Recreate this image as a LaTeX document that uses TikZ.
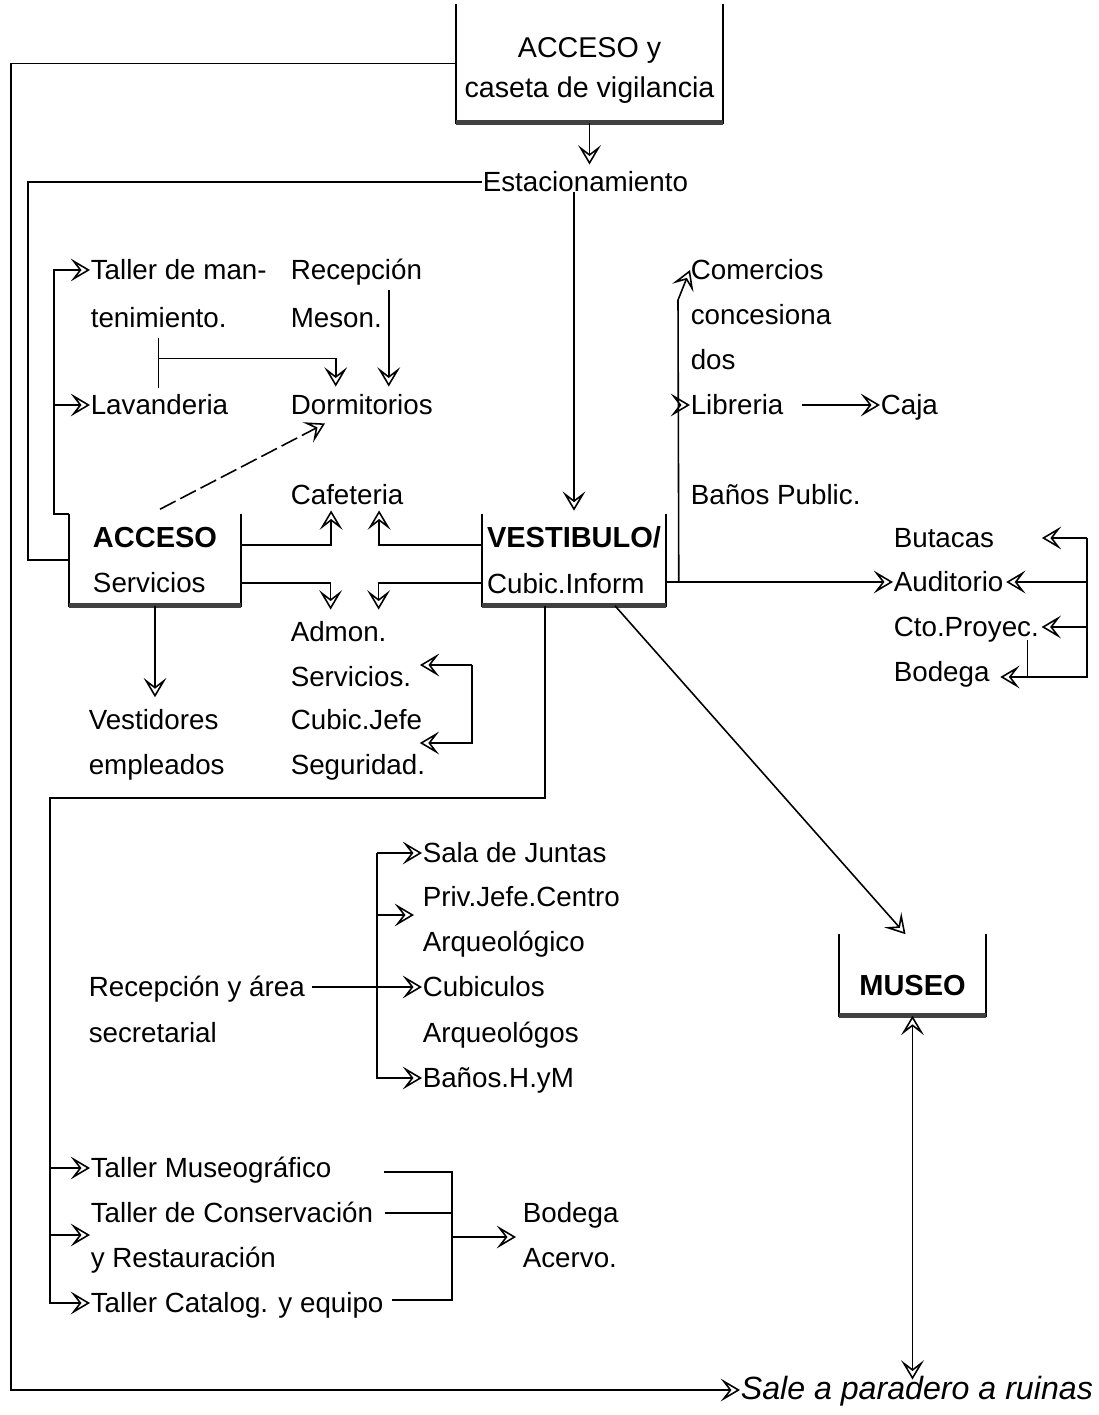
\documentclass[tikz,border=0pt]{standalone}
\usepackage{fontspec}
\setmainfont{Liberation Sans}
\usetikzlibrary{arrows.meta,calc}
\begin{document}
\begin{tikzpicture}[x=0.02cm,y=-0.02cm,line width=0.9pt,
  font=\fontsize{15.8}{19}\selectfont,
  txt/.style={anchor=west,inner sep=0pt,text height=11pt,text depth=0pt},
  recinto/.style={inner sep=0pt,align=left,font=\fontsize{15.8}{26}\selectfont},
  flecha/.style={-{Stealth[open,length=11pt,width=13pt,inset=5pt]}},
  dobleflecha/.style={{Stealth[open,length=11pt,width=13pt,inset=5pt]}-{Stealth[open,length=11pt,width=13pt,inset=5pt]}},
  barra/.style={line width=3pt,black!75}]
\useasboundingbox (0,0) rectangle (1098,1415);

% recintos principales
\node[recinto,minimum width=5.3cm,minimum height=2.34cm] (caseta) at (589.5,63.5) {};
\node[recinto,align=center,font=\fontsize{16.3}{22.7}\selectfont] (casetatxt) at ($(caseta.center)+(0,7)$) {ACCESO y\\caseta de vigilancia};
\node[recinto,minimum width=3.4cm,minimum height=1.8cm] (acceso) at (155,560) {{\bfseries\fontsize{16.5}{26}\selectfont ACCESO}\\Servicios};
\node[recinto,minimum width=3.64cm,minimum height=1.8cm] (vestib) at (574,560) {{\bfseries\fontsize{16.5}{26}\selectfont VESTIBULO/}\\Cubic.Inform};
\node[recinto,minimum width=2.9cm,minimum height=1.6cm,text height=23pt,text depth=0pt,font=\bfseries\fontsize{16.5}{20}\selectfont] (museo) at (912.5,975) {MUSEO};
\foreach \r in {caseta,acceso,vestib,museo}{
  \draw (\r.north west) -- (\r.south west) -- (\r.south east) -- (\r.north east);
  \draw[barra] (\r.south west) -- (\r.south east);
}

% textos
\node[txt] (estac) at (482,182) {Estacionamiento};
\node[txt] (taller) at (90,270) {Taller de man-};
\node[txt] (tenim) at (90,318) {tenimiento.};
\node[txt] (recmes) at (290,270) {Recepción};
\node[txt] (meson) at (290,318) {Meson.};
\node[txt] (lavand) at (90,405) {Lavanderia};
\node[txt] (dormi) at (290,405) {Dormitorios};
\node[txt] (cafe) at (290,495) {Cafeteria};
\node[txt] (admon) at (290,632) {Admon.};
\node[txt] (servs) at (290,677) {Servicios.};
\node[txt] (cjefe) at (290,720) {Cubic.Jefe};
\node[txt] (segur) at (290,765) {Seguridad.};
\node[txt] (vestid) at (88,720) {Vestidores};
\node[txt] (emple) at (88,765) {empleados};
\node[txt] (comerc) at (690,270) {Comercios};
\node[txt] (conces) at (690,315) {concesiona};
\node[txt] (dos) at (690,360) {dos};
\node[txt] (libr) at (690,405) {Libreria};
\node[txt] (caja) at (880,405) {Caja};
\node[txt] (banpub) at (690,495) {Baños Public.};
\node[txt] (butac) at (893,538) {Butacas};
\node[txt] (audit) at (893,582) {Auditorio};
\node[txt] (cto) at (893,627) {Cto.Proyec.};
\node[txt] (bodeg) at (893,672) {Bodega};
\node[txt] (sala) at (422,853) {Sala de Juntas};
\node[txt] (priv) at (422,897) {Priv.Jefe.Centro};
\node[txt] (arq1) at (422,942) {Arqueológico};
\node[txt] (cubic) at (422,987) {Cubiculos};
\node[txt] (arq2) at (422,1033) {Arqueológos};
\node[txt] (banos) at (422,1078) {Baños.H.yM};
\node[txt] (recep) at (88,987) {Recepción y área};
\node[txt] (secre) at (88,1033) {secretarial};
\node[txt] (tmus) at (90,1168) {Taller Museográfico};
\node[txt] (tcons) at (90,1213) {Taller de Conservación};
\node[txt] (trest) at (90,1258) {y Restauración};
\node[txt] (tcat) at (90,1303) {Taller Catalog. y equipo};
\node[txt] (acerv1) at (522,1213) {Bodega};
\node[txt] (acerv2) at (522,1258) {Acervo.};
\node[txt,font=\itshape\fontsize{18.3}{22}\selectfont] (salida) at (740,1390) {Sale a paradero a ruinas};

% acceso y estacionamiento
\draw[flecha] (caseta.west) -- ++(-445,0) |- (salida.west);
\draw[flecha,shorten >=4pt] (caseta.south) -- (caseta.south |- estac.north);
\draw (estac.west) -- ++(-454,0) |- (acceso.west);
\draw[flecha,shorten >=2pt] (estac.south -| vestib.north) -- (vestib.north);

% servicios
\draw[flecha] (acceso.north west) -- ++(-15,0) coordinate (bizq) |- (taller.west);
\draw[flecha] (bizq |- lavand.west) -- (lavand.west);
\draw ($(tenim.south)+(0,10)$) -- ++(0,50);
\draw[flecha] ($(tenim.south)+(0,30)$) -| ($(dormi.north)+(-26,-8)$);
\draw[flecha] ($(dormi.north)+(27,-105)$) -- ($(dormi.north)+(27,-8)$);
\draw[flecha,dash pattern=on 10pt off 3pt] ($(acceso.north)+(5,-5)$) -- ($(dormi.south west)+(35,8)$);
\draw[flecha] ($(acceso.east)+(0,-15)$) -| ($(cafe.south)+(-16,5)$);
\draw[flecha] ($(vestib.west)+(0,-15)$) -| ($(cafe.south)+(32,5)$);
\draw[flecha] ($(acceso.east)+(0,23)$) -| ($(admon.north)+(-8,-12)$);
\draw[flecha] ($(vestib.west)+(0,23)$) -| ($(admon.north)+(40,-12)$);
\draw[flecha,shorten >=7pt] (acceso.south) -- (acceso.south |- vestid.north);
\draw[flecha] ($(servs.east)+(60,-12)$) coordinate (bsrv) -- ($(servs.east)+(8,-12)$);
\draw[flecha] (bsrv) |- ($(cjefe.east)+(-3,23)$);

% vestibulo hacia comercios y auditorio
\draw[flecha] ($(vestib.east)+(0,22)$) -- ++(13,0) coordinate (bder) -- ($(comerc.west)+(-12,30)$) -- (comerc.west);
\draw[flecha] (bder |- libr.west) -- (libr.west);
\draw[flecha] (bder) -- (audit.west);
\draw[flecha] ($(libr.east)+(18,0)$) -- (caja.west);
\draw[flecha] ($(butac.east)+(92,0)$) coordinate (bauto) -- ($(butac.east)+(47,0)$);
\draw[flecha] (bauto) |- ($(bodeg.east)+(10,5)$);
\draw[flecha] (bauto |- audit.east) -- ($(audit.east)+(2,0)$);
\draw[flecha] (bauto |- cto.east) -- ($(cto.east)+(2,0)$);
\draw ($(cto.east)+(-12,13)$) -- ++(0,37);

% museo
\draw[flecha] ($(vestib.south)+(41,0)$) -- ($(museo.north)+(-7,0)$);
\draw[dobleflecha] (museo.south) -- (museo.south |- salida.north);

% area de investigacion y talleres
\draw[flecha] ($(vestib.south)+(-29,0)$) -- ++(0,192) -| ($(tcat.west)+(-40,0)$) -- (tcat.west);
\draw[flecha] ($(tmus.west)+(-40,0)$) -- (tmus.west);
\draw[flecha] ($(tcons.west)+(-40,22)$) -- ($(tcons.west)+(0,22)$);
\coordinate (btall) at ($(acerv1.west)+(-70,24)$);
\draw ($(tmus.east)+(52,4)$) -| (btall);
\draw ($(tcons.east)+(11,0)$) -- (tcons.east -| btall);
\draw ($(tcat.east)+(8,-3)$) -| (btall);
\draw[flecha] (btall) -- ($(acerv1.west)+(-6,24)$);
\draw[flecha] ($(recep.east)+(6,0)$) -- (cubic.west);
\draw[flecha] ($(sala.west)+(-45,0)$) coordinate (bsala) |- (banos.west);
\draw[flecha] (bsala) -- (sala.west);
\draw[flecha] ($(bsala |- priv.west)+(0,18)$) -- ($(priv.west)+(-8,18)$);
\end{tikzpicture}
\end{document}
